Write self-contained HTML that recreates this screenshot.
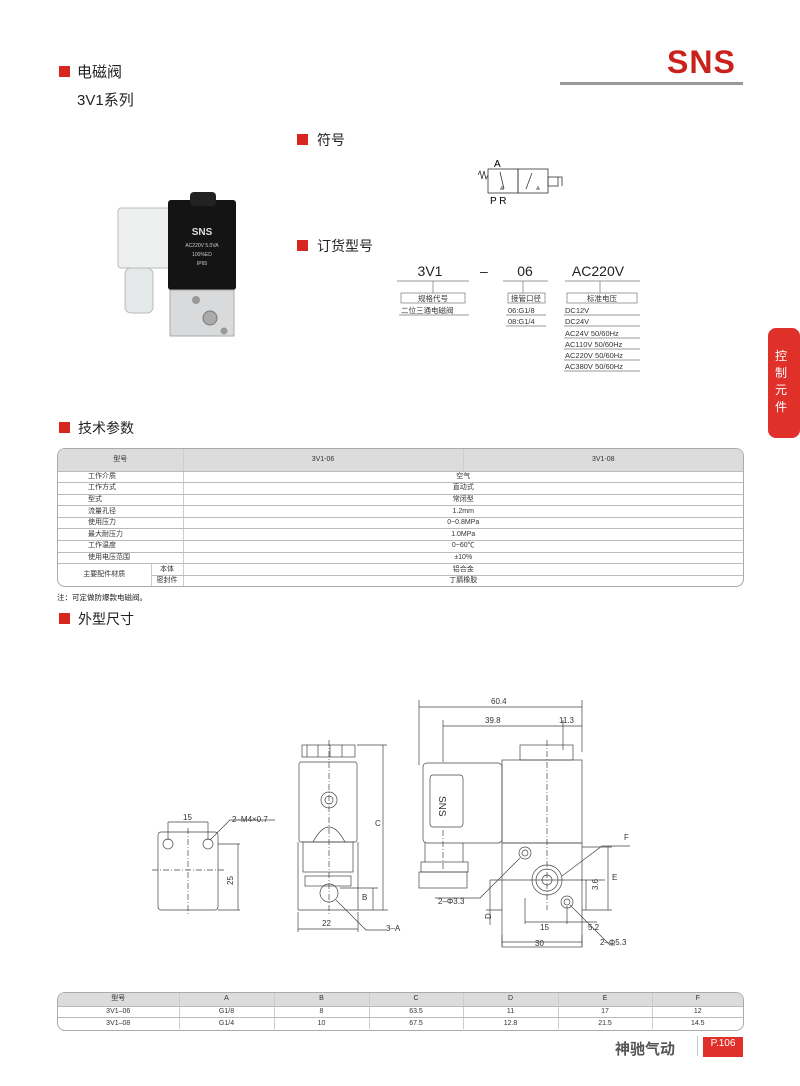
<!DOCTYPE html>
<html><head><meta charset="utf-8"><style>
*{margin:0;padding:0;box-sizing:border-box}
body{width:800px;height:1086px;position:relative;background:#fff;font-family:"Liberation Sans","Noto Sans CJK SC",sans-serif;color:#222;overflow:hidden}
.a{position:absolute;white-space:nowrap}
.sq{position:absolute;width:11px;height:11px;background:#d7261e}
.h{position:absolute;font-size:14px;color:#222}
table{border-collapse:collapse;position:absolute;font-size:7px;color:#333;table-layout:fixed}
td{text-align:center;border-bottom:1px solid #bbb;border-left:1px solid #ccc;padding:0;height:11.6px;line-height:10px;overflow:hidden;white-space:nowrap}
.tb{border:1px solid #aaa;border-radius:8px;overflow:hidden;position:absolute}
.l{text-align:left;padding-left:30px;border-left:none}
</style></head><body>
<div class="sq" style="left:59px;top:66px"></div>
<div class="a" style="left:77px;top:61px;font-size:15px">电磁阀</div>
<div class="a" style="left:77px;top:89px;font-size:15px">3V1系列</div>
<div class="a" style="left:667px;top:44px;font-size:32px;font-weight:bold;color:#c9221c;letter-spacing:1px">SNS</div>
<div class="a" style="left:560px;top:82px;width:183px;height:3px;background:#999"></div>
<div class="a" style="left:768px;top:328px;width:40px;height:110px;background:#e0302a;border-radius:8px;color:#fff;font-size:12px;line-height:17px;padding:20px 0 0 7px;white-space:normal;width:32px">控<br>制<br>元<br>件</div>

<svg class="a" style="left:110px;top:190px" width="140" height="150" viewBox="0 0 140 150">
<rect x="8" y="18" width="62" height="60" rx="3" fill="#eef0f0" stroke="#bbb"/>
<rect x="15" y="78" width="28" height="45" rx="6" fill="#e4e8e8" stroke="#bbb"/>
<rect x="58" y="10" width="68" height="90" rx="3" fill="#141414"/>
<rect x="80" y="2" width="26" height="14" rx="4" fill="#222"/>
<text x="92" y="45" fill="#ddd" font-size="10" font-weight="bold" text-anchor="middle" font-family="Liberation Sans">SNS</text>
<text x="92" y="57" fill="#ccc" font-size="5" text-anchor="middle" font-family="Liberation Sans">AC220V 5.0VA</text>
<text x="92" y="66" fill="#ccc" font-size="5" text-anchor="middle" font-family="Liberation Sans">100%ED</text>
<text x="92" y="75" fill="#ccc" font-size="5" text-anchor="middle" font-family="Liberation Sans">IP65</text>
<rect x="60" y="100" width="64" height="46" fill="#d8dadb" stroke="#aaa"/>
<circle cx="86" cy="110" r="4" fill="#999"/><circle cx="100" cy="128" r="7" fill="#aaa" stroke="#777"/><circle cx="114" cy="141" r="3.5" fill="#999"/>
</svg>

<div class="sq" style="left:297px;top:134px"></div><div class="h" style="left:317px;top:130px">符号</div>
<div class="sq" style="left:297px;top:240px"></div><div class="h" style="left:317px;top:236px">订货型号</div>

<svg class="a" style="left:470px;top:155px" width="100" height="55">
<g stroke="#333" fill="none" stroke-width="0.8">
<path d="M8 20 l2 -4 2 8 2 -8 2 8 2 -4"/>
<rect x="18" y="14" width="30" height="24"/><rect x="48" y="14" width="30" height="24"/>
<rect x="78" y="22" width="10" height="9"/><path d="M88 22 l4 0 0 9"/>
<path d="M30 17 L34 34"/><path d="M30 34 h4 M32 34 v-3"/>
<path d="M56 34 L62 18"/><path d="M66 34 h4 M68 34 v-3"/>
</g>
<text x="24" y="12" font-size="10" font-family="Liberation Sans">A</text>
<text x="20" y="49" font-size="10" font-family="Liberation Sans">P R</text>
</svg>

<div class="a" style="left:400px;top:263px;width:60px;text-align:center;font-size:14px">3V1</div>
<div class="a" style="left:480px;top:263px;font-size:14px">–</div>
<div class="a" style="left:505px;top:263px;width:40px;text-align:center;font-size:14px">06</div>
<div class="a" style="left:563px;top:263px;width:70px;text-align:center;font-size:14px">AC220V</div>
<svg class="a" style="left:395px;top:280px" width="250" height="95">
<g stroke="#777" stroke-width="0.7" fill="none">
<path d="M2 1 h72 M38 1 v12 M108 1 h45 M128 1 v12 M170 1 h75 M205 1 v12"/>
<rect x="6" y="13" width="64" height="10"/><path d="M4 35 h70"/>
<rect x="113" y="13" width="37" height="10"/><path d="M111 35 h40 M111 46 h40"/>
<rect x="172" y="13" width="70" height="10"/>
<path d="M169 35 h76 M169 46 h76 M169 58 h76 M169 69 h76 M169 80 h76 M169 91 h76"/>
</g>
<g font-size="7.5" fill="#333" font-family="Liberation Sans,Noto Sans CJK SC">
<text x="38" y="21" text-anchor="middle">规格代号</text><text x="6" y="33">二位三通电磁阀</text>
<text x="131" y="21" text-anchor="middle">接管口径</text><text x="113" y="33">06:G1/8</text><text x="113" y="44">08:G1/4</text>
<text x="207" y="21" text-anchor="middle">标准电压</text>
<text x="170" y="33">DC12V</text><text x="170" y="44">DC24V</text><text x="170" y="56">AC24V 50/60Hz</text><text x="170" y="67">AC110V 50/60Hz</text><text x="170" y="78">AC220V 50/60Hz</text><text x="170" y="89">AC380V 50/60Hz</text>
</g></svg>

<div class="sq" style="left:59px;top:422px"></div><div class="h" style="left:78px;top:418px">技术参数</div>
<div class="tb" style="left:57px;top:448px;width:687px;height:139px">
<table style="left:0;top:0;width:685px">
<colgroup><col style="width:93px"><col style="width:32px"><col style="width:280px"><col style="width:280px"></colgroup>
<tr style="background:#dcdcdc"><td colspan="2" style="height:22px;border-left:none">型号</td><td>3V1-06</td><td>3V1-08</td></tr>
<tr><td colspan="2" class="l">工作介质</td><td colspan="2">空气</td></tr>
<tr><td colspan="2" class="l">工作方式</td><td colspan="2">直动式</td></tr>
<tr><td colspan="2" class="l">型式</td><td colspan="2">常闭型</td></tr>
<tr><td colspan="2" class="l">流量孔径</td><td colspan="2">1.2mm</td></tr>
<tr><td colspan="2" class="l">使用压力</td><td colspan="2">0~0.8MPa</td></tr>
<tr><td colspan="2" class="l">最大耐压力</td><td colspan="2">1.0MPa</td></tr>
<tr><td colspan="2" class="l">工作温度</td><td colspan="2">0~60℃</td></tr>
<tr><td colspan="2" class="l">使用电压范围</td><td colspan="2">±10%</td></tr>
<tr><td rowspan="2" style="border-left:none">主要配件材质</td><td>本体</td><td colspan="2">铝合金</td></tr>
<tr><td style="border-bottom:none">密封件</td><td colspan="2" style="border-bottom:none">丁腈橡胶</td></tr>
</table></div>
<div class="a" style="left:57px;top:592px;font-size:7.5px">注：可定做防爆款电磁阀。</div>
<div class="sq" style="left:59px;top:613px"></div><div class="h" style="left:78px;top:609px">外型尺寸</div>

<svg class="a" style="left:0;top:0" width="800" height="1000" viewBox="0 0 800 1000">
<g stroke="#444" stroke-width="0.7" fill="none">
<rect x="158" y="832" width="60" height="78" rx="3"/>
<circle cx="168" cy="844" r="5"/><circle cx="208" cy="844" r="5"/>
<path d="M168 822 v18 M208 822 v18 M168 822 h40 M218 844 h22 M218 910 h22 M238 844 v66 M210 840 l20 -20 h45" />
<path d="M188 828 v86 M152 870 h72" stroke-dasharray="6 2 1 2"/>
<rect x="302" y="745" width="53" height="12"/>
<path d="M307 745 v12 M318 745 v12 M330 745 v12 M342 745 v12"/>
<rect x="299" y="762" width="58" height="80" rx="2"/>
<circle cx="329" cy="800" r="8"/><circle cx="329" cy="800" r="4"/>
<path d="M313 842 q16 -30 32 0"/>
<rect x="303" y="842" width="50" height="30"/>
<rect x="305" y="876" width="46" height="10"/>
<circle cx="329" cy="893" r="9"/>
<path d="M298 842 v68 M358 842 v68 M298 910 h60"/>
<path d="M329 740 v175" stroke-dasharray="6 2 1 2"/>
<path d="M357 745 h30 M358 910 h30 M383 745 v165 M340 888 h38 M373 888 v22 M298 912 v20 M358 912 v20 M298 929 h60 M336 900 l30 30 h20"/>
<path d="M419 700 v65 M582 700 v52 M419 707 h163 M443 720 v42 M563 720 v30 M443 726 h139"/>
<rect x="423" y="763" width="79" height="80" rx="4"/>
<rect x="430" y="775" width="33" height="52" rx="3"/>
<rect x="421" y="862" width="47" height="10"/><rect x="419" y="872" width="48" height="16"/>
<path d="M425 843 v19 M463 843 v19"/>
<rect x="520" y="745" width="53" height="15"/>
<rect x="502" y="760" width="80" height="83"/>
<rect x="502" y="843" width="80" height="104"/>
<circle cx="547" cy="880" r="15"/><circle cx="547" cy="880" r="11"/><circle cx="547" cy="880" r="5"/>
<circle cx="525" cy="853" r="6"/><circle cx="525" cy="853" r="3"/>
<circle cx="567" cy="902" r="6"/><circle cx="567" cy="902" r="3"/>
<path d="M547 740 v170 M443 830 v40" stroke-dasharray="6 2 1 2"/>
<path d="M490 880 h115 M582 847 h30 M582 910 h30 M608 847 v63 M586 880 v30 M592 910 h-10 M502 910 h-16 M490 880 v45 M525 898 v26 M567 906 v18 M525 922 h42 M567 922 h30 M502 942 h80 M502 935 v12 M582 935 v12"/>
<path d="M562 876 l40 -30 h28 M520 858 l-40 40 h-45 M570 905 l40 40 h5"/>
</g>
<g font-size="8" fill="#333" font-family="Liberation Sans">
<text x="183" y="820">15</text><text x="232" y="822">2–M4×0.7</text><text x="228" y="880" transform="rotate(-90 233 880)">25</text>
<text x="375" y="826">C</text><text x="362" y="900">B</text><text x="322" y="926">22</text><text x="386" y="931">3–A</text>
<text x="491" y="704">60.4</text><text x="485" y="723">39.8</text><text x="559" y="723">11.3</text>
<text x="443" y="808" transform="rotate(90 447 800)" font-size="10">SNS</text>
<text x="624" y="840">F</text><text x="612" y="880">E</text><text x="590" y="890" transform="rotate(-90 594 886)">3.6</text>
<text x="438" y="904">2–Φ3.3</text><text x="482" y="920" transform="rotate(-90 486 915)">D</text>
<text x="540" y="930">15</text><text x="588" y="930">5.2</text><text x="535" y="946">30</text><text x="600" y="945">2–Φ5.3</text>
</g></svg>

<div class="tb" style="left:57px;top:992px;width:687px;height:39px">
<table style="left:0;top:0;width:685px">
<colgroup><col style="width:121px"><col style="width:95px"><col style="width:95px"><col style="width:94px"><col style="width:95px"><col style="width:94px"><col style="width:91px"></colgroup>
<tr style="background:#dcdcdc"><td style="height:13px;border-left:none">型号</td><td>A</td><td>B</td><td>C</td><td>D</td><td>E</td><td>F</td></tr>
<tr><td style="border-left:none">3V1–06</td><td>G1/8</td><td>8</td><td>63.5</td><td>11</td><td>17</td><td>12</td></tr>
<tr><td style="border-left:none;border-bottom:none">3V1–08</td><td style="border-bottom:none">G1/4</td><td style="border-bottom:none">10</td><td style="border-bottom:none">67.5</td><td style="border-bottom:none">12.8</td><td style="border-bottom:none">21.5</td><td style="border-bottom:none">14.5</td></tr>
</table></div>
<div class="a" style="left:615px;top:1038px;font-size:15px;color:#555;font-weight:bold">神驰气动</div>
<div class="a" style="left:697px;top:1036px;width:1px;height:20px;background:#ccc"></div>
<div class="a" style="left:703px;top:1037px;width:40px;height:20px;background:#e0302a;color:#fff;font-size:10px;text-align:center;line-height:14px">P.106</div>
</body></html>
